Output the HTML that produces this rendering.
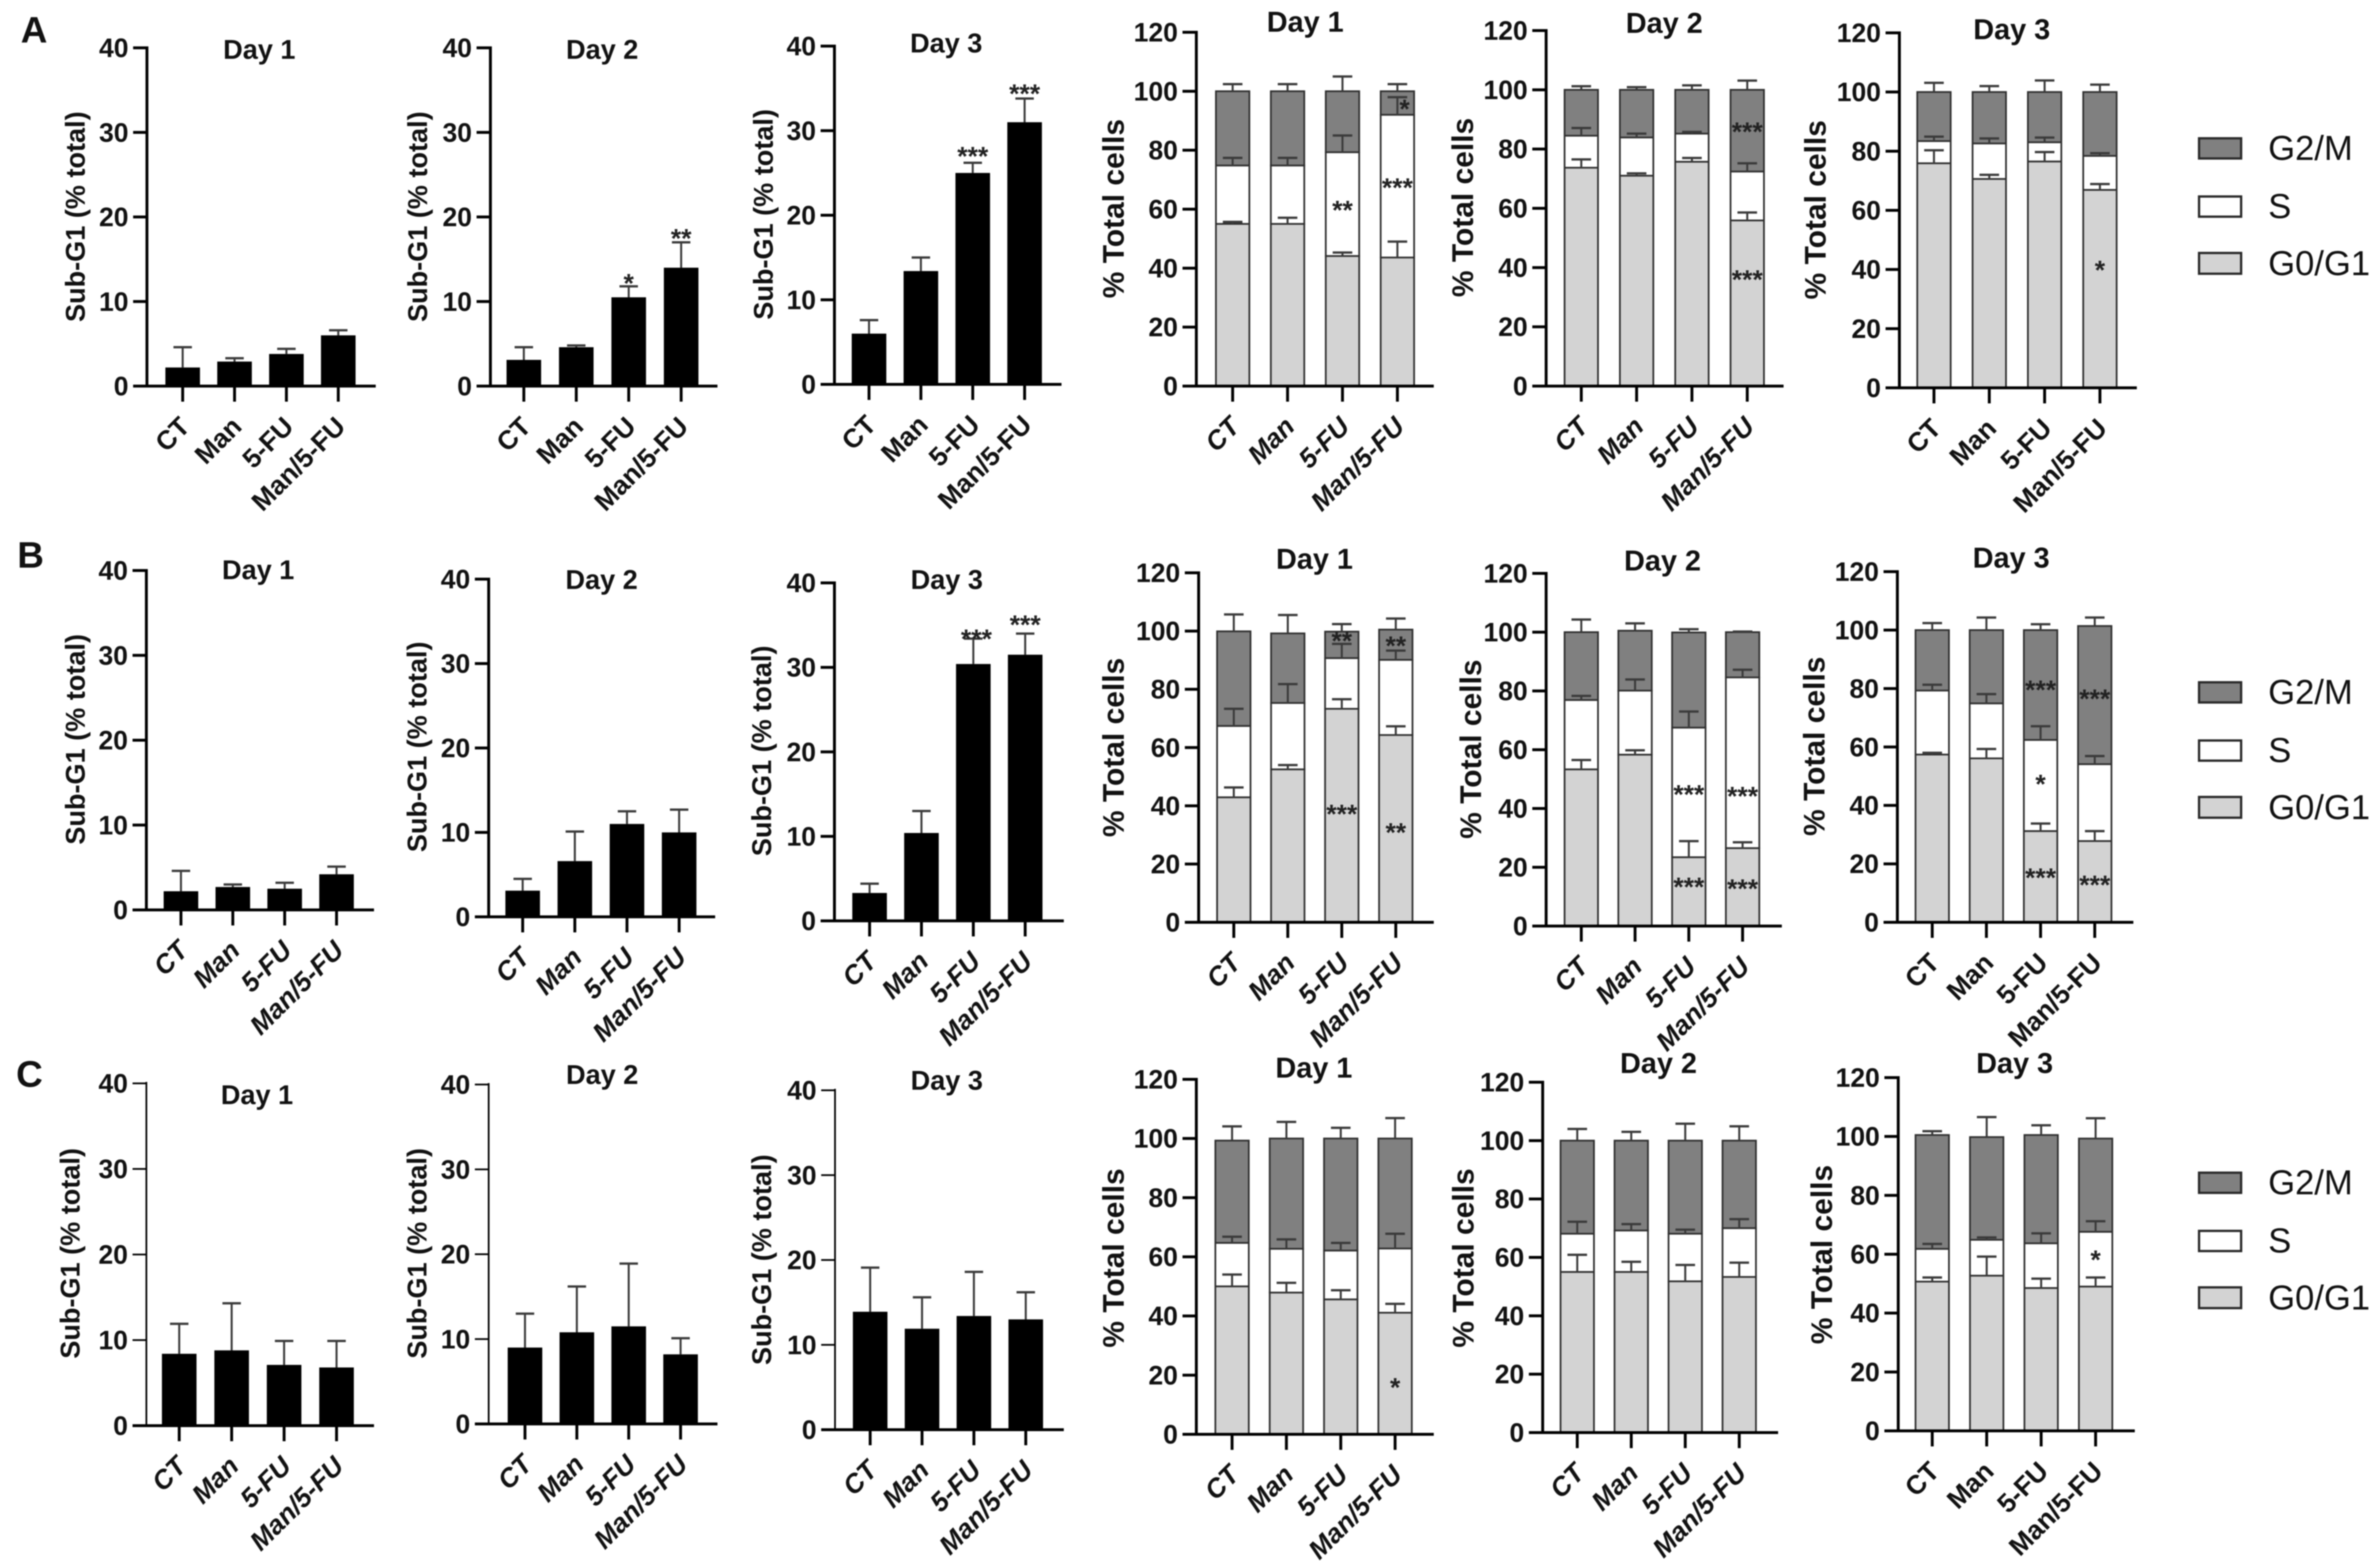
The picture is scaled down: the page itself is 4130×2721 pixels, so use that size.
<!DOCTYPE html>
<html lang="en">
<head>
<meta charset="utf-8">
<title>Sub-G1 and cell cycle distribution panels</title>
<style>
html,body{margin:0;padding:0;background:#fff;width:4130px;height:2721px;overflow:hidden}
svg{display:block;filter:blur(1px)}
text{font-family:"Liberation Sans",Arial,sans-serif;fill:#111}
.ttl{font-weight:700;text-anchor:middle;font-size:47px}
.ttr{font-weight:700;text-anchor:middle;font-size:50px}
.ysub{font-weight:700;text-anchor:middle;font-size:47px}
.ytot{font-weight:700;text-anchor:middle;font-size:52px}
.let{font-weight:700;font-size:64px}
.lg{font-size:60px;dominant-baseline:central}
.sw{stroke:#2a2a2a;stroke-width:4}
</style>
</head>
<body>
<svg id="figure" xmlns="http://www.w3.org/2000/svg" width="4130" height="2721" viewBox="0 0 4130 2721">
  <rect x="0" y="0" width="4130" height="2721" fill="#fff"/>

  <text class="let" x="36" y="74">A</text>
  <text class="let" x="30" y="985">B</text>
  <text class="let" x="28" y="1886">C</text>

  <text class="ttl" x="450" y="102">Day 1</text>
  <text class="ttl" x="1045" y="102">Day 2</text>
  <text class="ttl" x="1642" y="91">Day 3</text>
  <text class="ttl" x="448" y="1005">Day 1</text>
  <text class="ttl" x="1044" y="1022">Day 2</text>
  <text class="ttl" x="1643" y="1022">Day 3</text>
  <text class="ttl" x="446" y="1916">Day 1</text>
  <text class="ttl" x="1045" y="1881">Day 2</text>
  <text class="ttl" x="1643" y="1891">Day 3</text>

  <text class="ttr" x="2265" y="55">Day 1</text>
  <text class="ttr" x="2888" y="57">Day 2</text>
  <text class="ttr" x="3491" y="68">Day 3</text>
  <text class="ttr" x="2281" y="987">Day 1</text>
  <text class="ttr" x="2885" y="990">Day 2</text>
  <text class="ttr" x="3490" y="985">Day 3</text>
  <text class="ttr" x="2280" y="1870">Day 1</text>
  <text class="ttr" x="2878" y="1862">Day 2</text>
  <text class="ttr" x="3496" y="1862">Day 3</text>

  <text class="ysub" transform="translate(147,376) rotate(-90)">Sub-G1 (% total)</text>
  <text class="ysub" transform="translate(741,376) rotate(-90)">Sub-G1 (% total)</text>
  <text class="ysub" transform="translate(1341,372) rotate(-90)">Sub-G1 (% total)</text>
  <text class="ysub" transform="translate(147,1283) rotate(-90)">Sub-G1 (% total)</text>
  <text class="ysub" transform="translate(740,1296) rotate(-90)">Sub-G1 (% total)</text>
  <text class="ysub" transform="translate(1338,1303) rotate(-90)">Sub-G1 (% total)</text>
  <text class="ysub" transform="translate(138,2175) rotate(-90)">Sub-G1 (% total)</text>
  <text class="ysub" transform="translate(740,2175) rotate(-90)">Sub-G1 (% total)</text>
  <text class="ysub" transform="translate(1338,2186) rotate(-90)">Sub-G1 (% total)</text>

  <text class="ytot" transform="translate(1950,362) rotate(-90)">% Total cells</text>
  <text class="ytot" transform="translate(2556,360) rotate(-90)">% Total cells</text>
  <text class="ytot" transform="translate(3168,364) rotate(-90)">% Total cells</text>
  <text class="ytot" transform="translate(1950,1297) rotate(-90)">% Total cells</text>
  <text class="ytot" transform="translate(2570,1300) rotate(-90)">% Total cells</text>
  <text class="ytot" transform="translate(3166,1295) rotate(-90)">% Total cells</text>
  <text class="ytot" transform="translate(1950,2183) rotate(-90)">% Total cells</text>
  <text class="ytot" transform="translate(2557,2183) rotate(-90)">% Total cells</text>
  <text class="ytot" transform="translate(3179,2177) rotate(-90)">% Total cells</text>

  <g>
    <rect class="sw" x="3816" y="240" width="73" height="35" fill="#808080"/>
    <text class="lg" x="3936" y="257">G2/M</text>
    <rect class="sw" x="3816" y="341" width="73" height="35" fill="#fff"/>
    <text class="lg" x="3936" y="358">S</text>
    <rect class="sw" x="3816" y="439" width="73" height="36" fill="#d3d3d3"/>
    <text class="lg" x="3936" y="457">G0/G1</text>
  </g>
  <g>
    <rect class="sw" x="3816" y="1184" width="73" height="35" fill="#808080"/>
    <text class="lg" x="3936" y="1201">G2/M</text>
    <rect class="sw" x="3816" y="1285" width="73" height="35" fill="#fff"/>
    <text class="lg" x="3936" y="1302">S</text>
    <rect class="sw" x="3816" y="1383" width="73" height="36" fill="#d3d3d3"/>
    <text class="lg" x="3936" y="1401">G0/G1</text>
  </g>
  <g>
    <rect class="sw" x="3816" y="2035" width="73" height="35" fill="#808080"/>
    <text class="lg" x="3936" y="2052">G2/M</text>
    <rect class="sw" x="3816" y="2136" width="73" height="35" fill="#fff"/>
    <text class="lg" x="3936" y="2153">S</text>
    <rect class="sw" x="3816" y="2234" width="73" height="36" fill="#d3d3d3"/>
    <text class="lg" x="3936" y="2252">G0/G1</text>
  </g>
</svg>

<script>
const categories = ['CT', 'Man', '5-FU', 'Man/5-FU'];
const subG1TickLabels = [0, 10, 20, 30, 40];
const cycleTickLabels = [0, 20, 40, 60, 80, 100, 120];

/* Sub-G1 means and upper error values */
const subA1 = [2.2, 2.9, 3.8, 6.0];
const subA1Err = [4.6, 3.3, 4.4, 6.6];
const subA2 = [3.1, 4.6, 10.5, 14.0];
const subA2Err = [4.6, 4.8, 11.8, 17.0];
const subA3 = [6.0, 13.4, 25.0, 31.0];
const subA3Err = [7.6, 15.0, 26.2, 33.8];
const subB1 = [2.2, 2.7, 2.5, 4.2];
const subB1Err = [4.6, 3.0, 3.2, 5.1];
const subB2 = [3.1, 6.6, 11.0, 10.0];
const subB2Err = [4.5, 10.1, 12.5, 12.7];
const subB3 = [3.3, 10.4, 30.4, 31.5];
const subB3Err = [4.4, 13.0, 33.4, 34.0];
const subC1 = [8.4, 8.8, 7.1, 6.8];
const subC1Err = [11.9, 14.3, 9.9, 9.9];
const subC2 = [9.0, 10.8, 11.5, 8.2];
const subC2Err = [13.0, 16.2, 18.9, 10.1];
const subC3 = [13.9, 11.9, 13.4, 13.0];
const subC3Err = [19.1, 15.6, 18.6, 16.2];

/* Stacked cell cycle: cumulative tops of G0/G1, S, G2/M and upper error values */
const aD1G0 = [55, 55, 44.1, 43.6];
const aD1S = [74.8, 74.8, 79.3, 92];
const aD1G2 = [100, 100, 100, 100];
const aD1G0Err = [55.7, 57.1, 45.3, 49];
const aD1SErr = [77.4, 77.4, 85, 98];
const aD1G2Err = [102.4, 102.4, 105, 102.4];

const aD2G0 = [73.7, 71, 75.7, 55.9];
const aD2S = [84.5, 83.9, 85.2, 72.4];
const aD2G2 = [100, 100, 100, 100];
const aD2G0Err = [76.5, 71.8, 77, 58.6];
const aD2SErr = [87.1, 85.2, 85.8, 75.2];
const aD2G2Err = [101.2, 100.9, 101.5, 103.1];

const aD3G0 = [75.9, 70.6, 76.5, 66.9];
const aD3S = [83.4, 82.6, 83, 78.4];
const aD3G2 = [100, 100, 100, 100];
const aD3G0Err = [80.3, 72, 79.7, 68.9];
const aD3SErr = [84.9, 84.3, 84.6, 79.3];
const aD3G2Err = [103.1, 102, 103.9, 102.5];

const bD1G0 = [42.9, 52.5, 73.3, 64.3];
const bD1S = [67.4, 75.3, 90.7, 90.1];
const bD1G2 = [99.9, 99.2, 99.8, 100.5];
const bD1G0Err = [46.3, 54, 76.6, 67.3];
const bD1SErr = [73.3, 81.8, 95.6, 93.3];
const bD1G2Err = [105.7, 105.5, 102.4, 104.3];

const bD2G0 = [53.3, 58.3, 23.4, 26.5];
const bD2S = [76.9, 80.1, 67.5, 84.6];
const bD2G2 = [100, 100.5, 99.9, 100];
const bD2G0Err = [56.5, 59.8, 28.9, 28.5];
const bD2SErr = [78.3, 83.9, 73, 87.2];
const bD2G2Err = [104.3, 103, 101, 100.2];

const bD3G0 = [57.4, 56.1, 31.2, 27.8];
const bD3S = [79.3, 74.9, 62.4, 54.1];
const bD3G2 = [100, 100, 100, 101.4];
const bD3G0Err = [58, 59.3, 33.8, 31.2];
const bD3SErr = [81.3, 78.1, 67.1, 56.9];
const bD3G2Err = [102.4, 104.3, 102, 104.3];

const cD1G0 = [50, 47.9, 45.6, 41.1];
const cD1S = [64.7, 62.7, 62.1, 62.8];
const cD1G2 = [99.3, 100, 100, 100];
const cD1G0Err = [54, 51.2, 48.7, 44.1];
const cD1SErr = [66.8, 65.9, 64.7, 67.8];
const cD1G2Err = [104.1, 105.6, 103.6, 106.9];

const cD2G0 = [55, 55, 51.8, 53.3];
const cD2S = [68.1, 69.2, 68.1, 70];
const cD2G2 = [100, 100, 100, 100];
const cD2G0Err = [60.9, 58.5, 57.4, 58.2];
const cD2SErr = [72.2, 71.4, 69.5, 73.1];
const cD2G2Err = [104, 103, 105.8, 104.9];

const cD3G0 = [50.7, 52.7, 48.5, 49];
const cD3S = [61.8, 64.9, 63.7, 67.6];
const cD3G2 = [100.5, 99.8, 100.5, 99.3];
const cD3G0Err = [52.1, 59.2, 51.7, 52.1];
const cD3SErr = [63.5, 65.7, 67.1, 71.2];
const cD3G2Err = [101.8, 106.6, 103.8, 106.2];

/* Significance marks: category position, value, label */
const sigA2 = [[2, 12.9, '*'], [3, 18.2, '**']];
const sigA3 = [[2, 27.7, '***'], [3, 35.1, '***']];
const sigB3 = [[2.06, 34.1, '***'], [3, 35.8, '***']];
const sigAD1 = [[2, 61.8, '**'], [3, 69.4, '***'], [3.13, 96.1, '*']];
const sigAD2 = [[3, 87.9, '***'], [3, 38.1, '***']];
const sigAD3 = [[3, 41.9, '*']];
const sigBD1 = [[2, 98.8, '**'], [3, 97.1, '**'], [2, 39.3, '***'], [3, 33, '**']];
const sigBD2 = [[2, 46.9, '***'], [3, 46.3, '***'], [2, 15.4, '***'], [3, 14.8, '***']];
const sigBD3 = [[2, 81.7, '***'], [3, 78.6, '***'], [2, 49.4, '*'], [2, 17.4, '***'], [3, 14.9, '***']];
const sigCD1 = [[3, 18, '*']];
const sigCD3 = [[3, 60.2, '*']];

const SVGNS = 'http://www.w3.org/2000/svg';
const root = document.getElementById('figure');

function make(parent, tag, props) {
  const node = document.createElementNS(SVGNS, tag);
  for (const key in props) node.setAttribute(key, props[key]);
  parent.appendChild(node);
  return node;
}

function axes(p, ticks, maxVal) {
  const y = v => p.y0 - v * (p.y0 - p.yTop) / maxVal;
  const x = i => p.first + i * p.step;
  const g = make(root, 'g', {});
  
  

  const yLine = make(g, 'line', {x1: p.ax, x2: p.ax, y1: y(maxVal) - 2.5, y2: p.y0, stroke: '#000', 'stroke-width': p.lw});
  
  

  ticks.forEach(t => {
    const tick = make(g, 'line', {x1: p.ax - 24, x2: p.ax, y1: y(t), y2: y(t), stroke: '#000', 'stroke-width': p.lw});
    
    
    const lab = make(g, 'text', {x: p.ax - 32, y: y(t) + 16, 'text-anchor': 'end', 'font-size': p.tfs, 'font-weight': 700});
    
    
    lab.textContent = t;
  });

  categories.forEach((c, i) => {
    const tick = make(g, 'line', {x1: x(i), x2: x(i), y1: p.y0, y2: p.y0 + 27, stroke: '#000', 'stroke-width': 5});
    
    
    const lx = x(i) + 15;
    const ly = p.y0 + 73;
    const lab = make(g, 'text', {
      x: lx, y: ly, 'text-anchor': 'end', 'font-size': 46, 'font-weight': 700,
      'font-style': p.it ? 'italic' : 'normal',
      transform: 'rotate(-45 ' + lx + ' ' + ly + ')'
    });
    
    
    lab.textContent = c;
  });
  return {g, x, y};
}

function xAxisLine(g, p) {
  const line = make(g, 'line', {x1: p.ax - 24, x2: p.end, y1: p.y0, y2: p.y0, stroke: '#000', 'stroke-width': 5});
  
  
}

function errorBar(g, cx, from, to, capW) {
  const stem = make(g, 'line', {x1: cx, x2: cx, y1: from, y2: to, stroke: '#3a3a3a', 'stroke-width': 3.5});
  
  
  const cap = make(g, 'line', {x1: cx - capW / 2, x2: cx + capW / 2, y1: to, y2: to, stroke: '#3a3a3a', 'stroke-width': 4});
  
  
}

function stars(g, list, x, y) {
  list.forEach(s => {
    const fs = 46;
    const star = make(g, 'text', {x: x(s[0]), y: y(s[1]) + fs * 0.58, 'text-anchor': 'middle', 'font-size': fs, 'font-weight': 700, style: 'fill:#222'});
    
    
    star.textContent = s[2];
  });
}

function subG1Panel(p, values, errs, sig) {
  const {g, x, y} = axes(p, subG1TickLabels, 40);
  values.forEach((v, i) => {
    errorBar(g, x(i), y(v), y(errs[i]), 32);
    const bar = make(g, 'rect', {x: x(i) - 30, y: y(v), width: 60, height: p.y0 - y(v), fill: '#000'});
    
    
  });
  xAxisLine(g, p);
  stars(g, sig, x, y);
}

function cyclePanel(p, g0, s, g2, g0Err, sErr, g2Err, sig) {
  const {g, x, y} = axes(p, cycleTickLabels, 120);
  categories.forEach((c, i) => {
    const l = x(i) - 29;
    const common = {x: l, width: 58, stroke: '#2f2f2f', 'stroke-width': 3};
    const top = make(g, 'rect', Object.assign({y: y(g2[i]), height: y(s[i]) - y(g2[i]), fill: '#808080'}, common));
    
    
    const mid = make(g, 'rect', Object.assign({y: y(s[i]), height: y(g0[i]) - y(s[i]), fill: '#fff'}, common));
    
    
    const low = make(g, 'rect', Object.assign({y: y(g0[i]), height: p.y0 - y(g0[i]), fill: '#d3d3d3'}, common));
    
    
  });
  categories.forEach((c, i) => {
    errorBar(g, x(i), y(g0[i]), y(g0Err[i]), 34);
    errorBar(g, x(i), y(s[i]), y(sErr[i]), 34);
    errorBar(g, x(i), y(g2[i]), y(g2Err[i]), 34);
  });
  xAxisLine(g, p);
  stars(g, sig, x, y);
}

subG1Panel({ax: 255, y0: 670, yTop: 83, first: 317, step: 90, end: 652, lw: 5, tfs: 46, it: false}, subA1, subA1Err, []);
subG1Panel({ax: 851, y0: 670, yTop: 83, first: 909, step: 91, end: 1245, lw: 5, tfs: 46, it: false}, subA2, subA2Err, sigA2);
subG1Panel({ax: 1448, y0: 667, yTop: 80, first: 1508, step: 90, end: 1842, lw: 5, tfs: 46, it: false}, subA3, subA3Err, sigA3);
subG1Panel({ax: 254, y0: 1579, yTop: 990, first: 314, step: 90, end: 649, lw: 5, tfs: 46, it: true}, subB1, subB1Err, []);
subG1Panel({ax: 848, y0: 1591, yTop: 1005, first: 907, step: 90.5, end: 1241, lw: 5, tfs: 46, it: true}, subB2, subB2Err, []);
subG1Panel({ax: 1448, y0: 1598, yTop: 1011.5, first: 1509, step: 90, end: 1846, lw: 5, tfs: 46, it: true}, subB3, subB3Err, sigB3);
subG1Panel({ax: 254, y0: 2474, yTop: 1880, first: 311, step: 91, end: 649, lw: 3, tfs: 46, it: true}, subC1, subC1Err, []);
subG1Panel({ax: 848, y0: 2471, yTop: 1882, first: 911, step: 90, end: 1245, lw: 3, tfs: 46, it: true}, subC2, subC2Err, []);
subG1Panel({ax: 1449, y0: 2481, yTop: 1892, first: 1510, step: 90, end: 1846, lw: 3, tfs: 46, it: true}, subC3, subC3Err, []);

cyclePanel({ax: 2076, y0: 670, yTop: 56, first: 2139, step: 95.3, end: 2488, lw: 5, tfs: 46, it: true}, aD1G0, aD1S, aD1G2, aD1G0Err, aD1SErr, aD1G2Err, sigAD1);
cyclePanel({ax: 2683, y0: 670, yTop: 53, first: 2744, step: 96, end: 3095, lw: 5, tfs: 46, it: true}, aD2G0, aD2S, aD2G2, aD2G0Err, aD2SErr, aD2G2Err, sigAD2);
cyclePanel({ax: 3296, y0: 673, yTop: 57, first: 3356, step: 96, end: 3708, lw: 5, tfs: 46, it: false}, aD3G0, aD3S, aD3G2, aD3G0Err, aD3SErr, aD3G2Err, sigAD3);
cyclePanel({ax: 2080, y0: 1600.5, yTop: 994, first: 2141, step: 93.7, end: 2488, lw: 5, tfs: 46, it: true}, bD1G0, bD1S, bD1G2, bD1G0Err, bD1SErr, bD1G2Err, sigBD1);
cyclePanel({ax: 2683, y0: 1607, yTop: 995, first: 2744, step: 93.3, end: 3092, lw: 5, tfs: 46, it: true}, bD2G0, bD2S, bD2G2, bD2G0Err, bD2SErr, bD2G2Err, sigBD2);
cyclePanel({ax: 3292.5, y0: 1600.5, yTop: 992, first: 3353, step: 94, end: 3702, lw: 5, tfs: 46, it: false}, bD3G0, bD3S, bD3G2, bD3G0Err, bD3SErr, bD3G2Err, sigBD3);
cyclePanel({ax: 2076, y0: 2489, yTop: 1873, first: 2138, step: 94.3, end: 2488, lw: 5, tfs: 46, it: true}, cD1G0, cD1S, cD1G2, cD1G0Err, cD1SErr, cD1G2Err, sigCD1);
cyclePanel({ax: 2677, y0: 2486, yTop: 1878, first: 2737, step: 93.7, end: 3085.5, lw: 5, tfs: 46, it: true}, cD2G0, cD2S, cD2G2, cD2G0Err, cD2SErr, cD2G2Err, []);
cyclePanel({ax: 3294, y0: 2483, yTop: 1870, first: 3353, step: 94.5, end: 3704.5, lw: 5, tfs: 46, it: false}, cD3G0, cD3S, cD3G2, cD3G0Err, cD3SErr, cD3G2Err, sigCD3);
</script>
</body>
</html>
